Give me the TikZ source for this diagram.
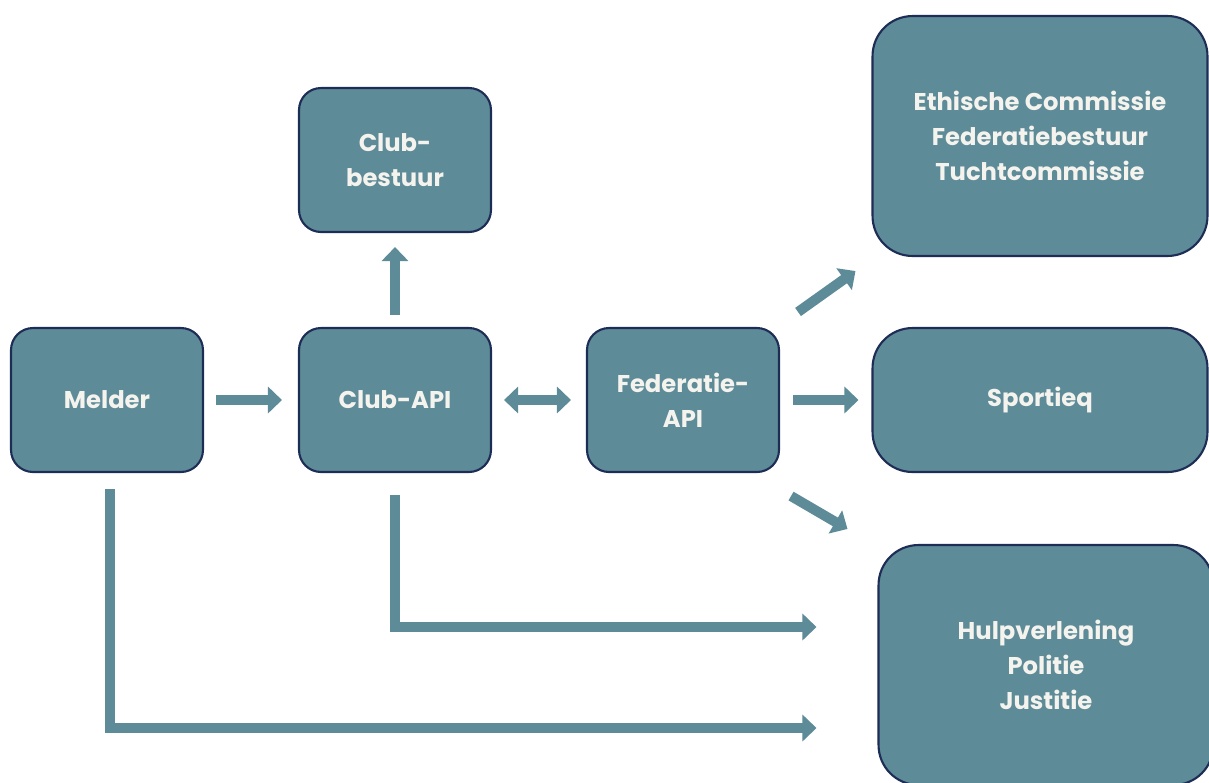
\documentclass[tikz,border=0pt]{standalone}
\usepackage{fontspec}
\setmainfont{Poppins}
\usepackage{xcolor}
\usetikzlibrary{arrows.meta,calc,positioning}

\definecolor{boxfill}{HTML}{5E8B98}
\definecolor{boxline}{HTML}{1E2D55}
\definecolor{boxtext}{HTML}{F4F3EE}

\begin{document}
\begin{tikzpicture}[x=0.02cm, y=-0.02cm,
    every node/.style={font=\fontsize{13.8}{20}\selectfont\bfseries},
    blok/.style={rectangle, rounded corners=0.44cm, draw=boxline, line width=1.2pt, fill=boxfill, text=boxtext, align=center, minimum width=3.84cm, minimum height=2.88cm},
    grootblok/.style={blok, rounded corners=0.8cm, minimum width=6.7cm, minimum height=4.8cm},
    pijl/.style={draw=boxfill, line width=0.2cm, -{Triangle[width=0.52cm,length=0.28cm]}},
    dubbelpijl/.style={pijl, {Triangle[width=0.52cm,length=0.28cm]}-{Triangle[width=0.52cm,length=0.28cm]}}]
				\clip (0,0) rectangle (1209,782);
				
				\node[blok] (melder) at (107,400) {Melder};
				\node[blok] (clubbestuur) at (395,160) {Club-\\bestuur};
				\node[blok] (clubapi) at (395,400) {Club-API};
				\node[blok] (fedapi) at (683,400) {Federatie-\\API};
				\node[grootblok] (ethiek) at (1040,136) {Ethische Commissie\\Federatiebestuur\\Tuchtcommissie};
				\node[grootblok, minimum height=2.88cm] (sportieq) at (1040,400) {Sportieq};
				\node[grootblok] (hulp) at (1046,665) {Hulpverlening\\Politie\\Justitie};
				
				\draw[pijl] ($(melder.east)+(12,0)$) -- ($(clubapi.west)+(-16,0)$);
				\draw[dubbelpijl] ($(clubapi.east)+(12,0)$) -- ($(fedapi.west)+(-15,0)$);
				\draw[pijl] ($(clubapi.north)+(0,-12)$) -- ($(clubbestuur.south)+(0,14)$);
				\draw[pijl] ($(fedapi.north east)+(18,-15)$) -- ($(ethiek.south west)+(-16,14)$);
				\draw[pijl] ($(fedapi.east)+(13,0)$) -- ($(sportieq.west)+(-13,0)$);
				\draw[pijl] ($(fedapi.south east)+(11,23)$) -- ($(hulp.north west)+(-30,-15)$);
				\draw[pijl] ($(clubapi.south)+(0,22)$) |- ($(hulp.west)+(-61,-38)$);
				\draw[pijl] ($(melder.south)+(3,16)$) |- ($(hulp.west)+(-61,63)$);
			\end{tikzpicture}
\end{document}
